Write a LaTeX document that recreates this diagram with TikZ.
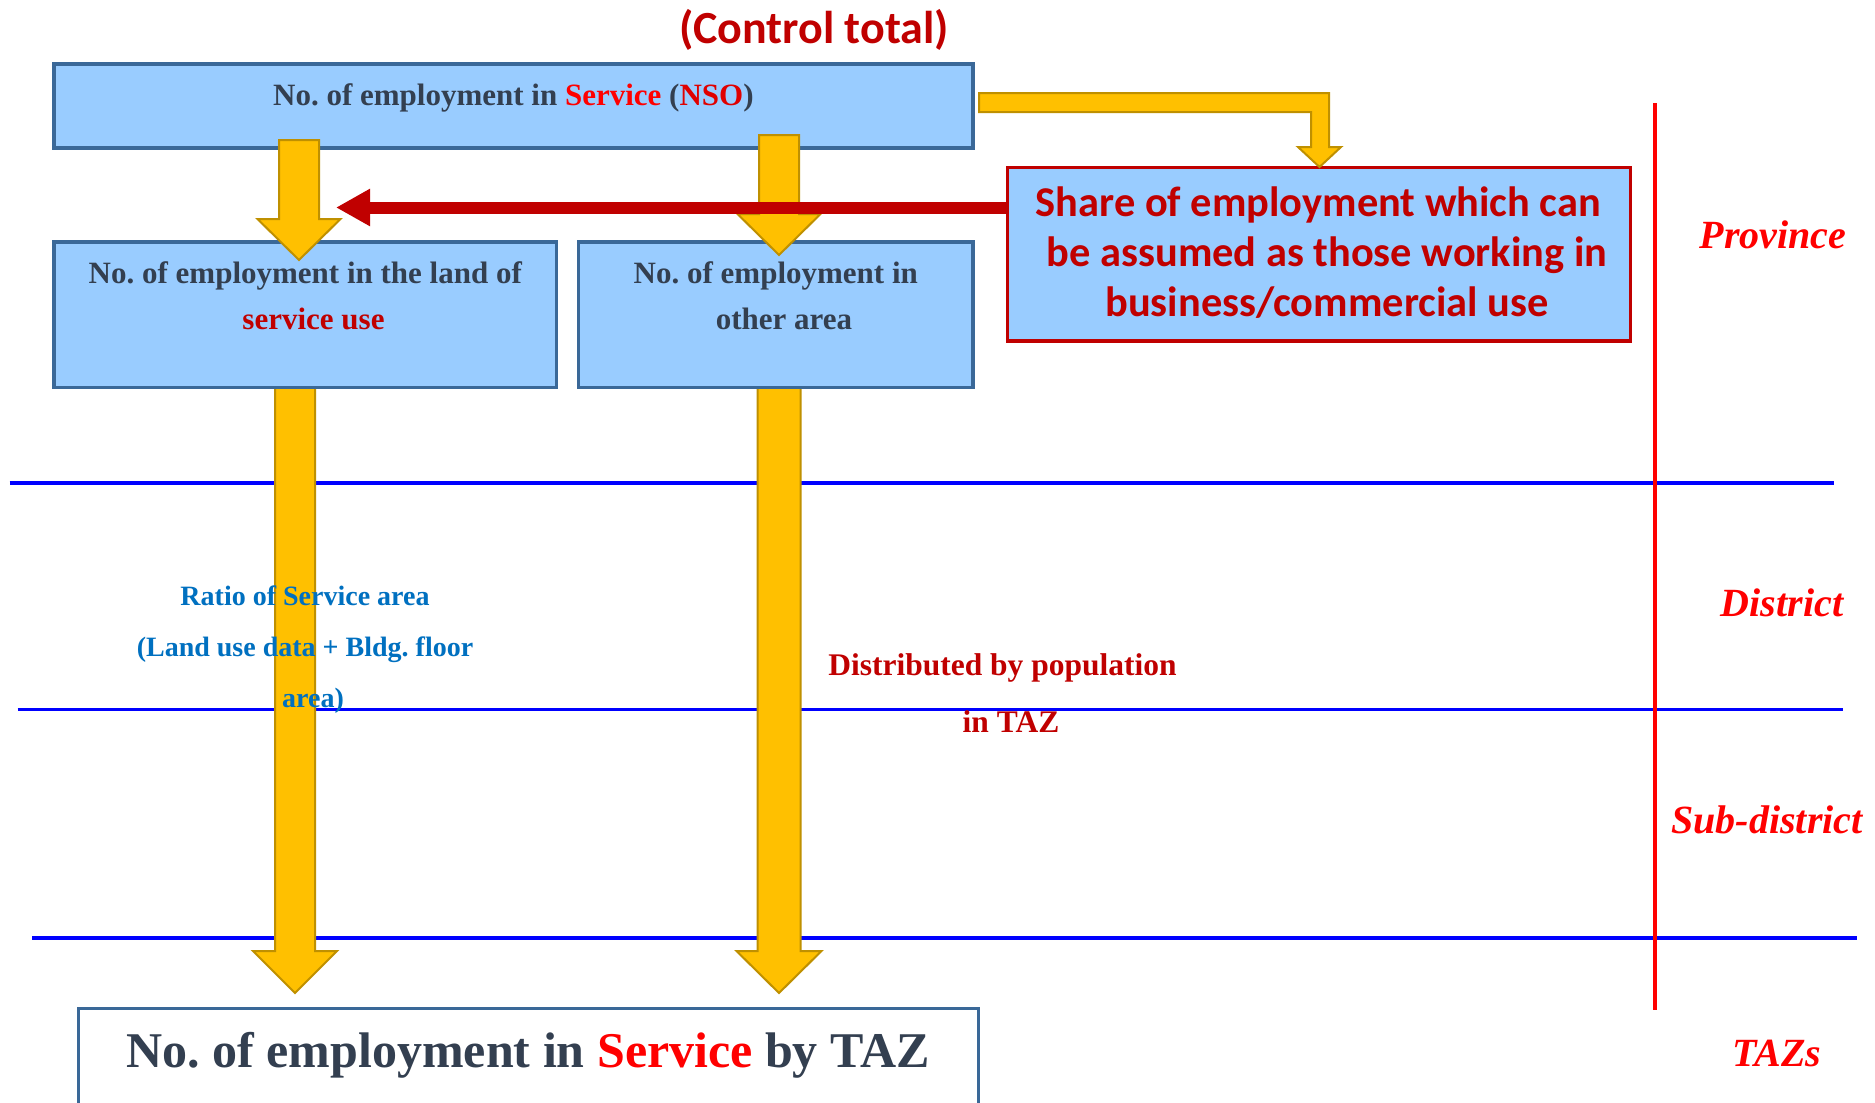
\documentclass[tikz,border=0pt]{standalone}
\usepackage{fontspec}
\setmainfont{Liberation Serif}
\newfontfamily\carlito{Carlito}
\usetikzlibrary{arrows.meta}
\definecolor{boxfill}{HTML}{99CCFF}
\definecolor{boxline}{HTML}{3A6898}
\definecolor{gold}{HTML}{FFC000}
\definecolor{goldline}{HTML}{BF9000}
\definecolor{dred}{HTML}{C00000}
\definecolor{bred}{HTML}{FF0000}
\definecolor{nsored}{HTML}{E00000}
\definecolor{lblue}{HTML}{0000FF}
\definecolor{tblue}{HTML}{0070C0}
\definecolor{tdark}{HTML}{333F50}
\frenchspacing
\begin{document}
\begin{tikzpicture}[x=1pt,y=-1pt,
  box/.style={draw=boxline, line width=3.5pt, fill=boxfill, inner sep=0, outer sep=0, anchor=north west},
  goldarrow/.style={draw=goldline, line width=2pt, fill=gold, line join=miter},
  level/.style={draw=lblue, line width=3.5pt},
  txt/.style={inner sep=0, anchor=base, text=tdark, font=\fontsize{31}{37}\selectfont\bfseries},
  bluetxt/.style={inner sep=0, anchor=base, text=tblue, font=\fontsize{28}{34}\selectfont\bfseries},
  redtxt/.style={inner sep=0, anchor=base, text=dred, font=\fontsize{31.5}{38}\selectfont\bfseries},
  sharetxt/.style={inner sep=0, anchor=base, text=dred, font=\carlito\fontsize{42.4}{50}\selectfont\bfseries},
  leveltxt/.style={inner sep=0, anchor=base, text=bred, font=\fontsize{40}{48}\selectfont\bfseries\itshape},
  pics/blockdown/.style args={#1/#2/#3/#4}{code={%
    \draw[goldarrow] (-#2,0) -- (-#2,#1-#4) -- (-#3,#1-#4) -- (0,#1) -- (#3,#1-#4) -- (#2,#1-#4) -- (#2,0) -- cycle;}}
]
\useasboundingbox (0,0) rectangle (1875,1103);
\fill[white] (0,0) rectangle (1875,1103);

% level lines
\draw[level] (9.5,483) -- (1834,483);
\draw[level] (17.5,709.5) -- (1843,709.5);
\draw[level] (32,938) -- (1857,938);
\draw[bred, line width=3.5pt] (1655,103) -- (1655,1010);

% long arrows (behind the boxes)
\pic at (295,380) {blockdown=613/20/42/42};
\pic at (779,380) {blockdown=613/21.5/42.5/42};

% boxes
\node[box, minimum width=919pt, minimum height=84pt] (top) at (54,64) {};
\node[box, minimum width=502.5pt, minimum height=145.5pt] (land) at (54,242) {};
\node[box, minimum width=394.5pt, minimum height=145.5pt] (other) at (578.5,242) {};
\node[box, draw=dred, minimum width=623pt, minimum height=173.3pt] (share) at (1007.3,167.5) {};
\node[box, fill=white, line width=3pt, minimum width=900.5pt, minimum height=110pt] (taz) at (78,1008) {};

% short arrows
\pic at (299,140) {blockdown=120/20/41.5/41};
\pic at (779,135) {blockdown=120/20/41.5/41};
\draw[goldarrow] (979,93) -- (1329,93) -- (1329,147) -- (1341,147) -- (1319.5,167) -- (1298,147) -- (1311,147) -- (1311,112) -- (979,112) -- cycle;

% red arrow
\coordinate (redtip) at (336,207.5);
\draw[dred, line width=12pt, -{Triangle[length=34pt,width=35pt]}] (share.west |- redtip) -- (redtip);

% texts
\node[inner sep=0, anchor=base, text=dred, font=\carlito\fontsize{46}{55}\selectfont\bfseries] (ctl) at (814,43.5) {(Control total)};
\node[txt] (toptxt) at (513.4,105) {No. of employment in \textcolor{bred}{Service} (\textcolor{nsored}{NSO})};
\node[txt] (land1) at (305.3,283) {No. of employment in the land of};
\node[txt, text=dred] (land2) at (313.5,329) {service use};
\node[txt] (other1) at (775.8,283) {No. of employment in};
\node[txt] (other2) at (784,329) {other area};
\node[sharetxt] (sh1) at (1318.5,216.5) {Share of employment which can};
\node[sharetxt] (sh2) at (1327,266.5) {be assumed as those working in};
\node[sharetxt] (sh3) at (1327,316.5) {business/commercial use};
\node[bluetxt] (r1) at (305,605) {Ratio of Service area};
\node[bluetxt] (r2) at (305,656) {(Land use data + Bldg. floor};
\node[bluetxt] (r3) at (313,707) {area)};
\node[redtxt] (d1) at (1002.5,675) {Distributed by population};
\node[redtxt] (d2) at (1011,732) {in TAZ};
\node[inner sep=0, anchor=base, text=tdark, font=\fontsize{50}{60}\selectfont\bfseries] (taztxt) at (528,1067) {No. of employment in \textcolor{bred}{Service} by TAZ};
\node[leveltxt] (prov) at (1773,248) {Province};
\node[leveltxt] (dist) at (1782,616) {District};
\node[leveltxt] (sub) at (1767,833) {Sub-district};
\node[leveltxt] (tazs) at (1777,1066) {TAZs};
\end{tikzpicture}
\end{document}
